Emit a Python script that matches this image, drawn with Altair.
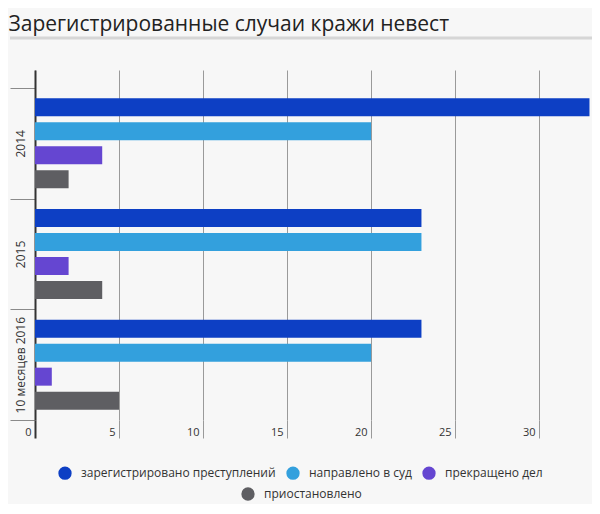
import altair as alt
import pandas as pd

years = ["2014", "2015", "10 месяцев 2016"]
series = ["зарегистрировано преступлений", "направлено в суд", "прекращено дел", "приостановлено"]
registered = [33, 23, 23]
court = [20, 23, 20]
terminated = [4, 2, 1]
suspended = [2, 4, 5]
colors = ["#0d3fc4", "#33a0dd", "#6546d1", "#5e5e62"]
x_ticks = [0, 5, 10, 15, 20, 25, 30]

rows = []
for s, vals in zip(series, [registered, court, terminated, suspended]):
    for yv, v in zip(years, vals):
        rows.append({"year": yv, "series": s, "value": v})
df = pd.DataFrame(rows)

FONT = "Open Sans"

x_enc = alt.X(
    "value:Q",
    scale=alt.Scale(domain=[0, 33.15], nice=False, zero=True),
    axis=alt.Axis(
        title=None, values=x_ticks, grid=True, gridColor="#9a9a9a", gridWidth=1,
        tickSize=18,
        tickColor=alt.condition("datum.value == 0", alt.value("#333333"), alt.value("#9a9a9a")),
        tickWidth=alt.condition("datum.value == 0", alt.value(2), alt.value(1)),
        labelAlign="right", labelOffset=-4, labelPadding=-12, domain=False,
        labelColor="#333333", labelFontSize=11, labelFont=FONT,
    ),
)
y_enc = alt.Y(
    "year:N", sort=years,
    scale=alt.Scale(paddingInner=0, paddingOuter=0.081, align=1),
    axis=alt.Axis(
        title=None, labelAngle=270, labelAlign="center", labelBaseline="middle",
        tickSize=25, labelPadding=-10, tickBand="extent", domainColor="#333333",
        domainWidth=2, tickColor="#8a8a8a", labelColor="#333333", labelFontSize=12,
        labelFont=FONT, grid=False,
    ),
)
yoff_enc = alt.YOffset(
    "series:N", sort=series,
    scale=alt.Scale(domain=series, paddingInner=0.25, paddingOuter=0.43),
)

legend_common = dict(
    title=None, orient="none", direction="horizontal", symbolType="circle",
    symbolSize=177, labelFontSize=12, labelFont=FONT, labelOffset=9,
    symbolStrokeWidth=0, labelColor="#333333", labelLimit=400,
)

base = alt.Chart(df)

bars_main = base.transform_filter(
    alt.FieldOneOfPredicate(field="series", oneOf=series[:3])
).mark_bar().encode(
    x=x_enc, y=y_enc, yOffset=yoff_enc,
    color=alt.Color(
        "series:N",
        scale=alt.Scale(domain=series[:3], range=colors[:3]),
        legend=alt.Legend(legendX=23, legendY=396, columnPadding=10, **legend_common),
    ),
)
bars_last = base.transform_filter(
    alt.FieldOneOfPredicate(field="series", oneOf=series[3:])
).mark_bar().encode(
    x=x_enc, y=y_enc, yOffset=yoff_enc,
    fill=alt.Fill(
        "series:N",
        scale=alt.Scale(domain=series[3:], range=colors[3:]),
        legend=alt.Legend(legendX=206, legendY=417, **legend_common),
    ),
)

sep = alt.Chart(pd.DataFrame({"a": [0]})).mark_rule(color="#d6d6d6", strokeWidth=3).encode(
    x=alt.value(-25), x2=alt.value(557), y=alt.value(-32)
)

chart = alt.layer(sep, bars_main, bars_last).resolve_scale(
    color="independent", fill="independent"
).properties(
    width=557, height=350,
    title=alt.TitleParams(
        "Зарегистрированные случаи кражи невест", anchor="start", frame="bounds",
        fontSize=21, font=FONT, fontWeight="normal", color="#222222", offset=2,
    ),
    autosize=alt.AutoSizeParams(type="none"),
    padding={"left": 27, "top": 62, "right": 0, "bottom": 84},
).configure(
    font=FONT, background="#f7f7f7"
).configure_view(stroke=None)

chart.save("out.html", embed_options={"renderer": "svg", "actions": False})
